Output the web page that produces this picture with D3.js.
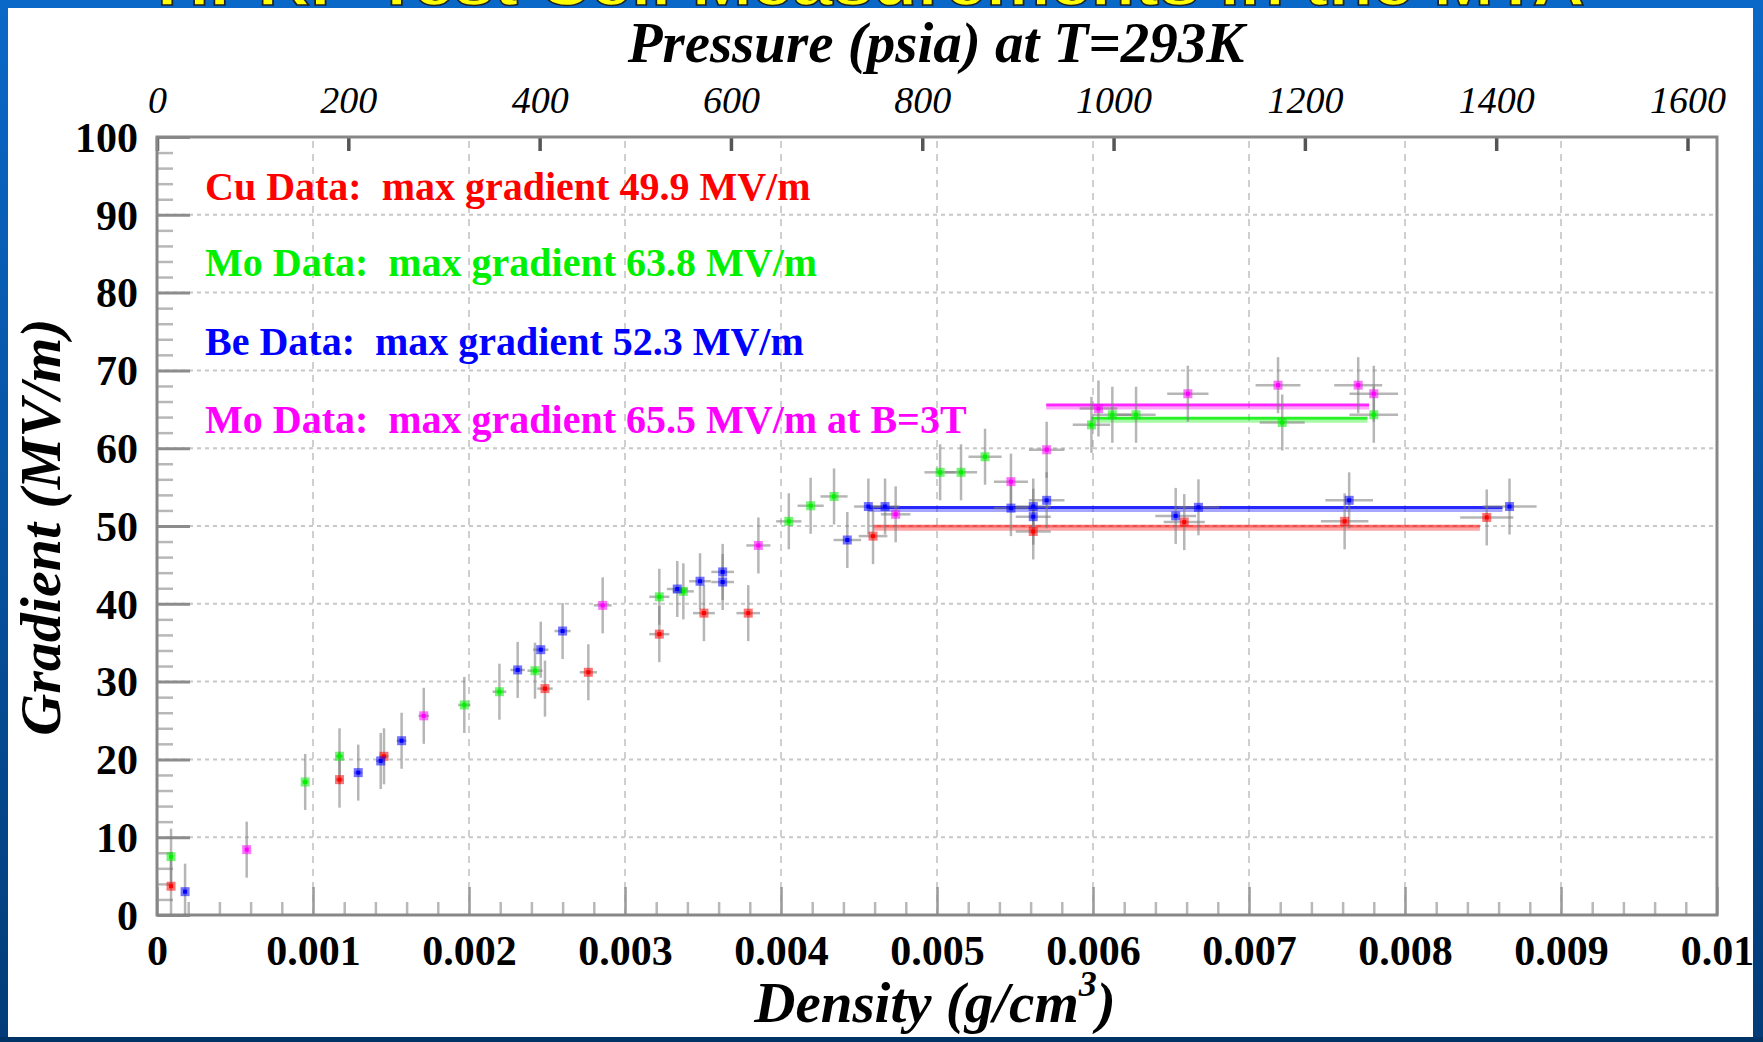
<!DOCTYPE html>
<html>
<head>
<meta charset="utf-8">
<script src="https://cdn.jsdelivr.net/npm/d3@7"></script>
<style>
  html, body { margin: 0; padding: 0; background: #003a78; }
  svg { display: block; }
</style>
</head>
<body>
<svg id="chart" width="1763" height="1042"></svg>
<script>
// ---------------- DATA ----------------
const densityTicks = [0, 0.001, 0.002, 0.003, 0.004, 0.005, 0.006, 0.007, 0.008, 0.009, 0.01];
const densityLabels = ["0", "0.001", "0.002", "0.003", "0.004", "0.005", "0.006", "0.007", "0.008", "0.009", "0.01"];
const densityMinorTicks = d3.range(0, 50).map(i => i * 0.0002);
const gradientTicks = [0, 10, 20, 30, 40, 50, 60, 70, 80, 90, 100];
const gradientMinorTicks = d3.range(0, 50).map(i => i * 2);
const pressureTicks = [0, 200, 400, 600, 800, 1000, 1200, 1400, 1600];

const seriesNames = ["Cu", "Mo", "Be", "Mo3T"];
const seriesColors = ["#ff0000", "#00f000", "#0000ff", "#ff00ff"];
const legendLabels = [
  "Cu Data:  max gradient 49.9 MV/m",
  "Mo Data:  max gradient 63.8 MV/m",
  "Be Data:  max gradient 52.3 MV/m",
  "Mo Data:  max gradient 65.5 MV/m at B=3T"
];

const cuDensity  = [0.00009, 0.00117, 0.001455, 0.002487, 0.002765, 0.00322, 0.003506, 0.00379, 0.00459, 0.005617, 0.006585, 0.007613, 0.008524];
const cuGradient = [3.7, 17.4, 20.4, 29.1, 31.2, 36.1, 38.8, 38.8, 48.7, 49.3, 50.5, 50.6, 51.1];

const moDensity  = [0.00009, 0.00095, 0.00117, 0.00197, 0.002195, 0.002423, 0.00322, 0.003374, 0.00405, 0.00419, 0.00434, 0.00502, 0.005154, 0.005308, 0.00599, 0.006124, 0.006276, 0.007213, 0.0078];
const moGradient = [7.5, 17.1, 20.4, 27.0, 28.7, 31.4, 40.9, 41.6, 50.6, 52.6, 53.8, 56.9, 56.9, 58.9, 63.0, 64.3, 64.3, 63.3, 64.3];

const beDensity  = [0.00018, 0.00129, 0.001434, 0.001568, 0.002312, 0.00246, 0.0026, 0.003335, 0.003481, 0.003626, 0.003626, 0.004425, 0.00456, 0.004667, 0.005474, 0.005617, 0.005617, 0.005703, 0.00653, 0.006676, 0.007642, 0.00867];
const beGradient = [3.0, 18.3, 19.8, 22.4, 31.5, 34.1, 36.5, 41.9, 42.9, 44.1, 42.8, 48.2, 52.5, 52.5, 52.3, 52.5, 51.2, 53.3, 51.3, 52.4, 53.3, 52.5];

const mo3tDensity  = [0.000575, 0.00171, 0.002857, 0.003855, 0.004735, 0.005474, 0.005703, 0.006035, 0.006608, 0.007186, 0.0077, 0.0078];
const mo3tGradient = [8.4, 25.6, 39.8, 47.5, 51.5, 55.7, 59.8, 65.1, 67.0, 68.1, 68.1, 67.0];

const gradientError = 3.6;        // MV/m, vertical error bar half-length
const densityErrorFraction = 0.02; // horizontal error bar half-length, fraction of density

const maxGradient   = [49.9, 63.8, 52.3, 65.5];
const maxLineStart  = [0.00459, 0.00599, 0.00456, 0.0057];
const maxLineEnd    = [0.00848, 0.00776, 0.008625, 0.00777];

const slideTitle = "HPRF Test Cell Measurements in the MTA";

// ---------------- DRAW ----------------
const svg = d3.select("#chart");
const serif = "'Liberation Serif', 'Times New Roman', serif";

const defs = svg.append("defs");
const bg = defs.append("linearGradient").attr("id", "bg").attr("x1", 0).attr("y1", 0).attr("x2", 0).attr("y2", 1);
bg.append("stop").attr("offset", "0%").attr("stop-color", "#0a68c8");
bg.append("stop").attr("offset", "100%").attr("stop-color", "#033c78");
svg.append("rect").attr("width", 1763).attr("height", 1042).attr("fill", "url(#bg)");
svg.append("rect").attr("x", 0).attr("y", 1037).attr("width", 1763).attr("height", 5).attr("fill", "#003366");

// slide title (mostly cut off)
svg.append("text").attr("x", 157).attr("y", 5)
  .attr("textLength", 1428).attr("lengthAdjust", "spacingAndGlyphs")
  .style("font-family", "'Liberation Sans', Arial, sans-serif").style("font-weight", "bold").style("font-size", "62px")
  .attr("fill", "#ffff00").attr("stroke", "#222").attr("stroke-width", 1.5).text(slideTitle);

svg.append("rect").attr("x", 8).attr("y", 8).attr("width", 1745).attr("height", 1029).attr("fill", "#ffffff");

const x = d3.scaleLinear().domain([0, 0.01]).range([157, 1717]);
const y = d3.scaleLinear().domain([0, 100]).range([915, 137]);
const p = d3.scaleLinear().domain([0, 1600]).range([157, 1687.5]);

// grid
const grid = svg.append("g");
grid.selectAll("line.h").data(gradientTicks.filter(v => v > 0 && v < 100)).join("line")
  .attr("x1", x(0)).attr("x2", x(0.01)).attr("y1", d => y(d)).attr("y2", d => y(d))
  .attr("stroke", "#c8c8c8").attr("stroke-width", 2).attr("stroke-dasharray", "4,4");
grid.selectAll("line.v").data(densityTicks.filter(v => v > 0 && v < 0.0099)).join("line")
  .attr("x1", d => x(d)).attr("x2", d => x(d)).attr("y1", y(0)).attr("y2", y(100))
  .attr("stroke", "#cfcfcf").attr("stroke-width", 2).attr("stroke-dasharray", "7,6");

// ticks via axes
function styleTicks(g, color, width) {
  g.select(".domain").remove();
  g.selectAll(".tick line").attr("stroke", color).attr("stroke-width", width);
  g.selectAll(".tick text").remove();
}
svg.append("g").attr("transform", `translate(${x(0)},0)`)
  .call(d3.axisRight(y).tickValues(gradientMinorTicks.filter(v => v % 10 !== 0)).tickSize(16))
  .call(g => styleTicks(g, "#b8b8b8", 2.5));
svg.append("g").attr("transform", `translate(${x(0)},0)`)
  .call(d3.axisRight(y).tickValues(gradientTicks).tickSize(33))
  .call(g => styleTicks(g, "#8c8c8c", 3));
svg.append("g").attr("transform", `translate(0,${y(0)})`)
  .call(d3.axisTop(x).tickValues(densityMinorTicks.filter((v, i) => i % 5 !== 0)).tickSize(13))
  .call(g => styleTicks(g, "#b8b8b8", 2.5));
svg.append("g").attr("transform", `translate(0,${y(0)})`)
  .call(d3.axisTop(x).tickValues(densityTicks).tickSize(28))
  .call(g => styleTicks(g, "#999999", 2.5));
svg.append("g").attr("transform", `translate(0,${y(100)})`)
  .call(d3.axisBottom(p).tickValues(pressureTicks).tickSize(14))
  .call(g => styleTicks(g, "#555555", 3.5));

// frame
svg.append("rect").attr("x", x(0)).attr("y", y(100)).attr("width", x(0.01) - x(0)).attr("height", y(0) - y(100))
  .attr("fill", "none").attr("stroke", "#878787").attr("stroke-width", 3);

// tick labels
const yLab = svg.append("g").attr("transform", `translate(${x(0)},0)`)
  .call(d3.axisLeft(y).tickValues(gradientTicks).tickSize(0).tickPadding(19));
yLab.select(".domain").remove();
yLab.selectAll("text").style("font-family", serif).style("font-weight", "bold").style("font-size", "42px")
  .attr("fill", "#000").attr("dy", "0.34em");

const xLab = svg.append("g").attr("transform", `translate(0,${y(0)})`)
  .call(d3.axisBottom(x).tickValues(densityTicks).tickSize(0).tickFormat((d, i) => densityLabels[i]));
xLab.select(".domain").remove();
xLab.selectAll("text").style("font-family", serif).style("font-weight", "bold").style("font-size", "42px")
  .attr("fill", "#000").attr("y", 50).attr("dy", 0);

const pLab = svg.append("g").attr("transform", `translate(0,${y(100)})`)
  .call(d3.axisTop(p).tickValues(pressureTicks).tickSize(0).tickFormat(d3.format("d")));
pLab.select(".domain").remove();
pLab.selectAll("text").style("font-family", serif).style("font-style", "italic").style("font-size", "38px")
  .attr("fill", "#000").attr("y", -24).attr("dy", 0);

// axis titles
svg.append("text").attr("x", 936).attr("y", 62).attr("text-anchor", "middle")
  .style("font-family", serif).style("font-style", "italic").style("font-weight", "bold").style("font-size", "57px")
  .text("Pressure (psia) at T=293K");
const xt = svg.append("text").attr("x", 935).attr("y", 1022).attr("text-anchor", "middle")
  .style("font-family", serif).style("font-style", "italic").style("font-weight", "bold").style("font-size", "57px");
xt.append("tspan").text("Density (g/cm");
xt.append("tspan").attr("dy", -26).style("font-size", "36px").text("3");
xt.append("tspan").attr("dy", 26).text(")");
svg.append("text").attr("transform", "translate(60,527) rotate(-90)").attr("text-anchor", "middle")
  .style("font-family", serif).style("font-style", "italic").style("font-weight", "bold").style("font-size", "58px")
  .text("Gradient (MV/m)");

// max-gradient lines
const lines = svg.append("g");
seriesNames.forEach((s, i) => {
  lines.append("line").attr("x1", x(maxLineStart[i])).attr("x2", x(maxLineEnd[i]))
    .attr("y1", y(maxGradient[i]) + 2.5).attr("y2", y(maxGradient[i]) + 2.5)
    .attr("stroke", seriesColors[i]).attr("stroke-opacity", 0.35).attr("stroke-width", 3);
  lines.append("line").attr("x1", x(maxLineStart[i])).attr("x2", x(maxLineEnd[i]))
    .attr("y1", y(maxGradient[i]) - 0.5).attr("y2", y(maxGradient[i]) - 0.5)
    .attr("stroke", seriesColors[i]).attr("stroke-opacity", i === 0 ? 0.6 : 0.85).attr("stroke-width", 3);
});

// points
const allSeries = [
  { dx: cuDensity, gy: cuGradient },
  { dx: moDensity, gy: moGradient },
  { dx: beDensity, gy: beGradient },
  { dx: mo3tDensity, gy: mo3tGradient }
];
const errG = svg.append("g").attr("stroke", "#7a7a7a").attr("stroke-opacity", 0.55).attr("stroke-width", 2.5);
allSeries.forEach((s, si) => {
  s.dx.forEach((d, j) => {
    const g = s.gy[j];
    errG.append("line").attr("x1", x(d)).attr("x2", x(d))
      .attr("y1", y(Math.min(100, g + gradientError))).attr("y2", y(Math.max(0, g - gradientError)));
    errG.append("line").attr("x1", x(Math.max(0, d * (1 - densityErrorFraction)))).attr("x2", x(d * (1 + densityErrorFraction)))
      .attr("y1", y(g)).attr("y2", y(g));
  });
});
const mk = svg.append("g");
allSeries.forEach((s, si) => {
  s.dx.forEach((d, j) => {
    const g = s.gy[j];
    mk.append("rect").attr("x", x(d) - 4.5).attr("y", y(g) - 4.5).attr("width", 9).attr("height", 9)
      .attr("fill", seriesColors[si]).attr("fill-opacity", 0.55);
    mk.append("rect").attr("x", x(d) - 2).attr("y", y(g) - 2).attr("width", 4).attr("height", 4)
      .attr("fill", seriesColors[si]);
  });
});

// legend text
const legendBaselines = [200, 276, 355, 433];
svg.append("g").selectAll("text").data(legendLabels).join("text")
  .attr("x", 205).attr("y", (d, i) => legendBaselines[i])
  .attr("fill", (d, i) => seriesColors[i]).attr("xml:space", "preserve")
  .style("white-space", "pre")
  .style("font-family", serif).style("font-weight", "bold").style("font-size", "40px")
  .text(d => d);
</script>
</body>
</html>
